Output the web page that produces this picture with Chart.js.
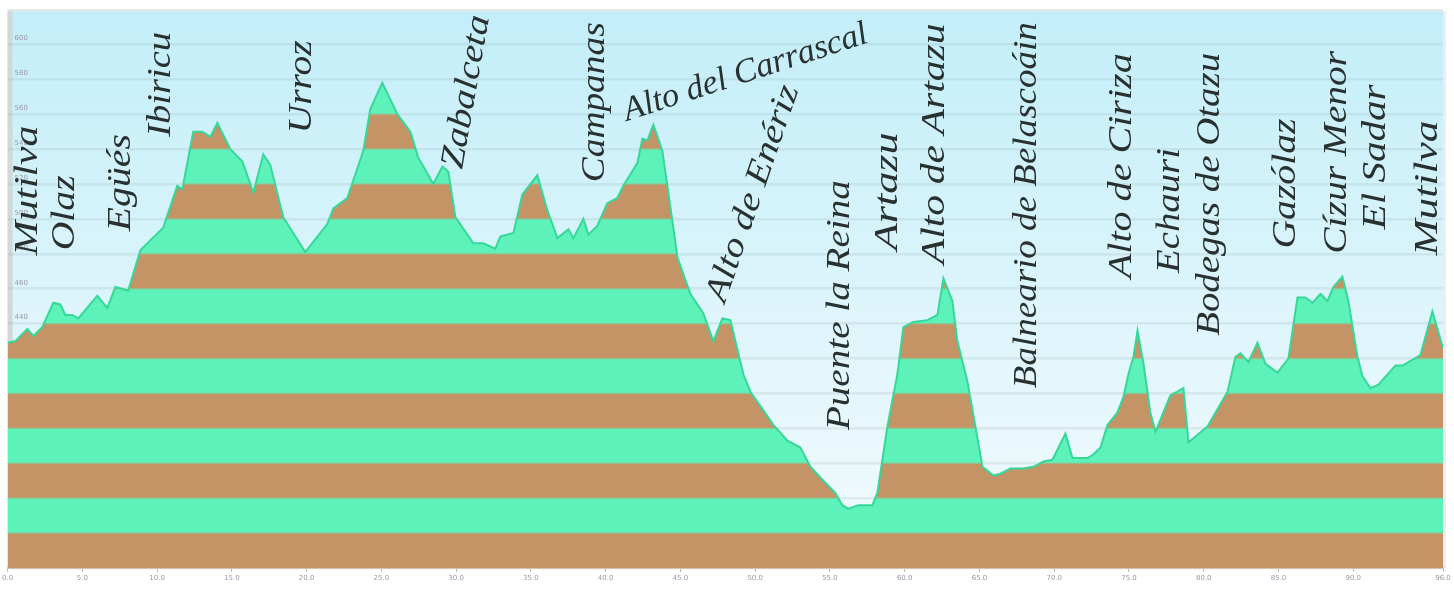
<!DOCTYPE html>
<html><head><meta charset="utf-8">
<script src="https://cdn.jsdelivr.net/npm/chart.js@4.4.1/dist/chart.umd.min.js"></script>
<style>html,body{margin:0;padding:0;background:#fff;}canvas{display:block}</style>
</head><body>
<div style="width:1454px;height:589px"><canvas id="c" width="1454" height="589"></canvas></div>
<script>
// ---- data ----
const distanceKm = [0.0,0.52,1.32,1.72,2.32,3.06,3.53,3.86,4.33,4.73,6.00,6.67,7.21,8.07,8.88,9.34,10.41,11.35,11.69,12.42,13.02,13.56,14.03,14.90,15.70,16.44,17.10,17.57,18.44,19.91,21.38,21.79,22.72,23.12,23.79,
24.26,25.06,26.07,26.94,27.47,28.48,29.08,29.48,29.95,31.15,31.82,32.62,32.96,33.83,34.43,35.43,36.10,36.77,37.51,37.84,38.51,38.84,39.44,40.11,40.78,41.18,42.12,42.46,42.79,43.19,43.79,44.46,44.80,45.67,46.53,47.20,47.81,48.34,
49.21,49.68,51.22,52.16,53.02,53.69,54.56,55.36,55.83,56.23,56.90,57.84,58.17,58.84,59.51,59.91,60.58,61.52,62.19,62.59,63.19,63.52,64.19,64.73,65.20,65.93,66.40,67.07,67.87,68.61,69.28,69.88,70.75,71.22,72.22,72.62,73.09,
73.56,74.22,74.63,74.96,75.30,75.57,75.97,76.43,76.77,77.77,78.24,78.64,78.98,80.25,81.59,82.12,82.45,82.99,83.59,84.13,84.93,85.66,86.27,86.80,87.27,87.81,88.27,88.67,89.27,89.67,90.28,90.61,91.15,91.68,92.82,93.29,94.49,95.29,96.00];
const elevationM = [429,430,437,433,438,452,451,445,445,443,456,449,461,459,482,486,495,519,517,550,550,547,555,540,533,515,537,531,501,481,497,506,512,522,539,
563,578,560,550,535,520,530,527,501,486,486,483,490,492,514,525,505,489,494,489,500,491,496,509,512,519,532,546,545,554,539,499,478,457,446,430,443,442,
411,401,382,373,369,358,350,343,336,334,336,336,343,381,411,438,441,442,445,466,453,430,407,381,358,353,354,357,357,358,361,362,377,363,363,365,369,
382,389,398,411,421,436,417,389,378,399,401,403,372,381,401,421,423,418,429,417,412,420,455,455,452,457,453,461,467,453,421,410,403,405,416,416,422,447,426];
const placeNames = ["Mutilva","Olaz","Egüés","Ibiricu","Urroz","Zabalceta","Campanas","Alto del Carrascal","Alto de Enériz","Puente la Reina","Artazu","Alto de Artazu","Balneario de Belascoáin","Alto de Ciriza","Echauri","Bodegas de Otazu","Gazólaz","Cízur Menor","El Sadar","Mutilva"];
const xMin = 0, xMax = 96, xStep = 5;
const yMin = 300, yMax = 619, yStep = 20;

// ---- layout of place labels (km, elevation, angle, text length px) ----
const labelAnchors = [[1.38,479,-90,130],[3.86,482,-90,75],[7.61,493,-90,97],[10.28,547,-90,105],[19.71,549,-90,93],[29.81,529,-80,155],[39.31,521,-90,160],[41.25,561,-18,255],[47.40,453,-71,227],[55.70,379,-90,250],[58.91,482,-90,118],[62.06,474,-90,241],[68.21,403,-90,366],[74.56,466,-90,225],[77.77,469,-90,125],[80.45,433,-90,283],[85.53,483,-90,130],[88.94,480,-90,203],[91.49,494,-90,145],[95.03,479,-90,135]];

const GREEN = '#5cf2b9', BROWN = '#c49467', LINE = '#36d899';

function bandFill(context) {
  const chart = context.chart;
  const a = chart.chartArea;
  if (!a) return GREEN;
  const ys = chart.scales.y;
  const h = a.bottom - a.top;
  const g = chart.ctx.createLinearGradient(0, a.bottom, 0, a.top);
  const d = 1.2 / h;
  const off = v => Math.min(1, Math.max(0, (a.bottom - ys.getPixelForValue(v)) / h));
  for (let k = 0; yMin + k * yStep < yMax; k++) {
    const c = (k % 2 === 0) ? BROWN : GREEN;
    const s = off(yMin + k * yStep), e = off(yMin + (k + 1) * yStep);
    g.addColorStop(Math.min(1, k === 0 ? 0 : s + d), c);
    g.addColorStop(Math.max(0, e >= 1 ? 1 : e - d), c);
  }
  return g;
}

const skyPlugin = {
  id: 'sky',
  beforeDraw(chart) {
    const {ctx, chartArea: a} = chart;
    const g = ctx.createLinearGradient(0, a.top, 0, a.bottom);
    g.addColorStop(0, '#c3eef9');
    g.addColorStop(1, '#f4fbfd');
    ctx.save();
    ctx.fillStyle = g;
    ctx.fillRect(a.left, a.top, a.right - a.left, a.bottom - a.top);
    ctx.fillStyle = '#e1e5e5';
    ctx.fillRect(a.left, a.top - 2, a.right - a.left, 2);
    ctx.fillStyle = '#d0d8d8';
    ctx.fillRect(a.left, a.top, 5, a.bottom - a.top);
    ctx.fillStyle = '#eceeee';
    ctx.fillRect(a.right, a.top, 3, a.bottom - a.top);
    ctx.restore();
  }
};

const labelPlugin = {
  id: 'places',
  afterDatasetsDraw(chart) {
    const {ctx} = chart;
    const xs = chart.scales.x, ys = chart.scales.y;
    ctx.save();
    ctx.fillStyle = '#283030';
    ctx.font = 'italic 34px "Liberation Serif"';
    ctx.textBaseline = 'middle';
    ctx.textAlign = 'left';
    placeNames.forEach((name, i) => {
      const [km, el, ang, len] = labelAnchors[i];
      const px = xs.getPixelForValue(km), py = ys.getPixelForValue(el);
      const w = ctx.measureText(name).width;
      ctx.save();
      ctx.translate(px, py);
      ctx.rotate(ang * Math.PI / 180);
      ctx.scale(len / w, 1);
      ctx.fillText(name, 0, 0);
      ctx.restore();
    });
    ctx.restore();
  }
};

new Chart(document.getElementById('c'), {
  type: 'line',
  data: {
    datasets: [{
      data: distanceKm.map((d, i) => ({x: d, y: elevationM[i]})),
      borderColor: LINE,
      borderWidth: 2,
      backgroundColor: bandFill,
      fill: 'start',
      pointRadius: 0,
      tension: 0
    }]
  },
  options: {
    responsive: false,
    animation: false,
    layout: {padding: {top: 10, right: 11, left: 0, bottom: 0}},
    plugins: {legend: {display: false}, tooltip: {enabled: false}},
    scales: {
      x: {
        type: 'linear', min: xMin, max: xMax,
        afterFit: s => { s.height = 21; },
        afterBuildTicks: s => { s.ticks = s.ticks.filter(t => t.value === xMax || xMax - t.value >= xStep); },
        border: {display: true, color: '#d6c2ae', width: 2},
        grid: {display: true, drawOnChartArea: false, drawTicks: true, tickLength: 4, color: '#cbb9a6'},
        ticks: {stepSize: xStep, autoSkip: false, maxRotation: 0, padding: 2, color: '#9a98aa',
                font: {size: 7, family: 'DejaVu Sans'}, callback: v => Number(v).toFixed(1)}
      },
      y: {
        min: yMin, max: yMax,
        afterFit: s => { s.width = 7.3; },
        border: {display: false},
        grid: {drawTicks: false, color: 'rgba(140,165,172,0.18)', lineWidth: 2.5},
        ticks: {stepSize: yStep, includeBounds: false, mirror: true, padding: 7, labelOffset: -6,
                color: '#9a98aa', font: {size: 7, family: 'DejaVu Sans'}, callback: v => String(v)}
      }
    }
  },
  plugins: [skyPlugin, labelPlugin]
});
</script>
</body></html>
